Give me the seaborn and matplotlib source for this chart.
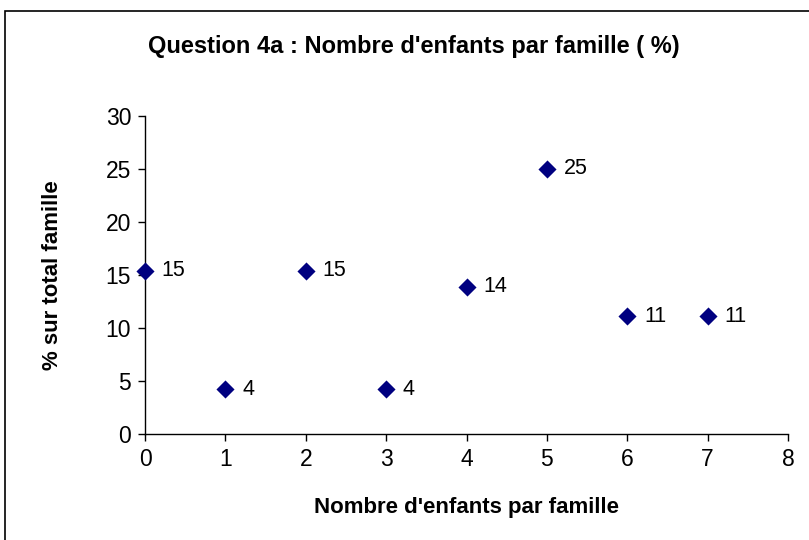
import matplotlib
matplotlib.use("Agg")
import matplotlib.pyplot as plt
import pandas as pd
import seaborn as sns
from matplotlib.patches import Rectangle

# Data
children = [0, 1, 2, 3, 4, 5, 6, 7]
percent = [15.4, 4.2, 15.4, 4.2, 13.9, 25.0, 11.1, 11.1]
labels = ["15", "4", "15", "4", "14", "25", "11", "11"]

sns.set_theme(style="white")
plt.rcParams["font.family"] = ["Liberation Sans", "DejaVu Sans"]
plt.rcParams["text.color"] = "black"
plt.rcParams["axes.labelcolor"] = "black"
plt.rcParams["xtick.color"] = "black"
plt.rcParams["ytick.color"] = "black"

MARKER_COLOR = "#000080"

df = pd.DataFrame({"children": children, "percent": percent})

fig = plt.figure(figsize=(8.09, 5.40), dpi=100)
ax = fig.add_axes([145 / 809, (540 - 434) / 540, (788 - 145) / 809, (434 - 116) / 540])

sns.scatterplot(data=df, x="children", y="percent", ax=ax, marker="D",
                color=MARKER_COLOR, s=85, edgecolor=MARKER_COLOR, linewidth=0,
                clip_on=False, zorder=3)

for x, y, lab in zip(children, percent, labels):
    ax.annotate(lab, (x, y), xytext=(12, 0), textcoords="offset points",
                va="center", ha="left", fontsize=15.5, color="black")

ax.set_xlim(0, 8)
ax.set_ylim(0, 30)
ax.set_xticks(range(0, 9))
ax.set_yticks(range(0, 31, 5))
ax.tick_params(axis="both", which="both", direction="out", length=5, width=1,
               color="black", labelsize=16.5, pad=5, bottom=True, left=True)

for side in ["top", "right"]:
    ax.spines[side].set_visible(False)
for side in ["left", "bottom"]:
    ax.spines[side].set_color("black")
    ax.spines[side].set_linewidth(1)

ax.set_xlabel("Nombre d'enfants par famille", fontsize=16, fontweight="bold", labelpad=19)
ax.set_ylabel("% sur total famille", fontsize=16, fontweight="bold", labelpad=31)

fig.text(414 / 809, 1 - 46 / 540, "Question 4a : Nombre d'enfants par famille ( %)",
         ha="center", va="center", fontsize=17, fontweight="bold")

# outer chart border
fig.patches.append(Rectangle((5 / 809, -0.1), 1.2, 1 - 11 / 540 + 0.1,
                             transform=fig.transFigure, fill=False,
                             edgecolor="black", linewidth=1.2))

fig.savefig("out.png", dpi=100)
